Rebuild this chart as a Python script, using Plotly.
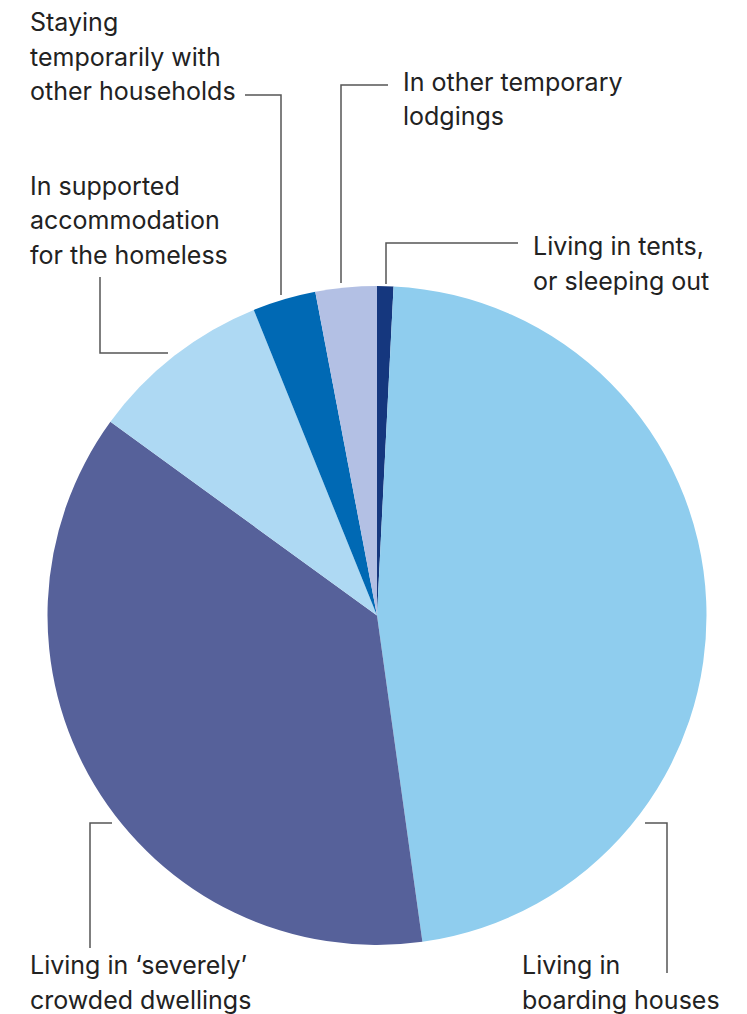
import plotly.graph_objects as go

W, H = 747, 1014

categories = [
    "Living in tents, or sleeping out",
    "Living in boarding houses",
    "Living in 'severely' crowded dwellings",
    "In supported accommodation for the homeless",
    "Staying temporarily with other households",
    "In other temporary lodgings",
]
values = [0.8, 47.0, 37.2, 8.9, 3.1, 3.0]
colors = ["#15377e", "#8fcdee", "#56619a", "#aed9f3", "#0069b4", "#b3c0e4"]

# label lines: (lines, left x px, first baseline px)
labels = [
    (["Staying", "temporarily with", "other households"], 28, 31),
    (["In other temporary", "lodgings"], 401, 91),
    (["Living in tents,", "or sleeping out"], 531, 255),
    (["In supported", "accommodation", "for the homeless"], 28, 195),
    (["Living in \u2018severely\u2019", "crowded dwellings"], 28, 974),
    (["Living in", "boarding houses"], 520, 974),
]
line_gap = 34.5

# leader lines as polylines in pixel coords
leaders = [
    [(245, 95), (281, 95), (281, 295)],
    [(388, 85), (341, 85), (341, 283)],
    [(518, 243), (386, 243), (386, 284)],
    [(100, 277), (100, 353), (168, 353)],
    [(112, 823), (90, 823), (90, 948)],
    [(645, 823), (667, 823), (667, 973)],
]


def px(x):
    return x / W


def py(y):
    return 1 - y / H


cx, cy, r = 377, 615.5, 329.5

fig = go.Figure(
    go.Pie(
        labels=categories,
        values=values,
        sort=False,
        direction="clockwise",
        rotation=0,
        marker=dict(colors=colors, line=dict(width=0)),
        textinfo="none",
        hoverinfo="label+percent",
        domain=dict(x=[px(cx - r), px(cx + r)], y=[py(cy + r), py(cy - r)]),
        showlegend=False,
    )
)

FONT = "Inter"
FS = 25
annotations = []
for lines, x0, b0 in labels:
    for i, t in enumerate(lines):
        base = b0 + i * line_gap
        annotations.append(
            dict(
                x=px(x0),
                y=py(base - 0.36 * FS),
                xref="paper",
                yref="paper",
                text=t,
                showarrow=False,
                xanchor="left",
                yanchor="middle",
                font=dict(family=FONT, size=FS, color="#222222"),
            )
        )

shapes = []
for pts in leaders:
    path = "M " + " L ".join(f"{px(x)},{py(y)}" for x, y in pts)
    shapes.append(
        dict(
            type="path",
            path=path,
            xref="paper",
            yref="paper",
            line=dict(color="#555555", width=1.5),
        )
    )

fig.update_layout(
    width=W,
    height=H,
    margin=dict(l=0, r=0, t=0, b=0),
    paper_bgcolor="white",
    plot_bgcolor="white",
    annotations=annotations,
    shapes=shapes,
)

fig.write_html("out.html")
